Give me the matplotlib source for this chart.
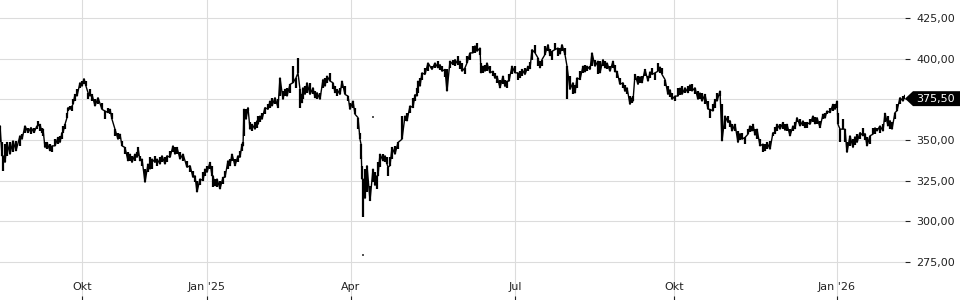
import matplotlib
matplotlib.use("Agg")
import matplotlib.pyplot as plt
from matplotlib.patches import Polygon
from matplotlib.ticker import FuncFormatter
import matplotlib.transforms as mtransforms

# bar index (trading-time axis) with low / high of each bar group
t = [0, 2, 3, 5, 7, 10, 13, 16, 20, 22, 25, 28, 31, 34, 37, 38, 40, 42, 43, 45,
     47, 50, 52, 55, 58, 60, 62, 63, 65, 67, 68, 70, 72, 73, 75, 77, 80, 82, 84, 86,
     88, 90, 92, 95, 98, 102, 105, 108, 110, 112, 115, 118, 120, 122, 125, 128, 130, 132, 135, 137,
     138, 140, 142, 145, 148, 150, 152, 155, 157, 160, 162, 165, 167, 170, 173, 175, 177, 180, 183, 187,
     190, 193, 195, 197, 200, 203, 205, 207, 210, 212, 213, 215, 217, 220, 223, 225, 228, 230, 232, 235,
     238, 240, 242, 243, 244, 246, 248, 250, 252, 255, 257, 258, 260, 262, 265, 268, 270, 272, 275, 278,
     280, 283, 285, 287, 290, 293, 296, 298, 300, 302, 303, 305, 307, 310, 313, 315, 317, 320, 323, 325,
     327, 330, 333, 335, 337, 340, 342, 345, 348, 350, 353, 355, 358, 360, 361, 362, 363, 365, 367, 370,
     373, 375, 377, 378, 380, 383, 385, 387, 388, 390, 392, 395, 398, 402, 405, 407, 410, 413, 415, 417,
     418, 420, 422, 425, 428, 432, 435, 438, 440, 442, 445, 447, 450, 453, 455, 458, 460, 462, 465, 467,
     470, 473, 475, 477, 480, 481, 483, 485, 487, 490, 493, 495, 497, 500, 503, 505, 507, 509, 512, 515,
     518, 520, 522, 525, 528, 530, 532, 535, 538, 540, 542, 545, 548, 550, 552, 555, 558, 560, 562, 565,
     567, 570, 573, 575, 577, 580, 583, 585, 587, 590, 592, 595, 598, 600, 603, 605, 607, 610, 613, 615,
     617, 620, 623, 625, 627, 630, 632, 633, 635, 638, 640, 642, 645, 648, 650, 652, 655, 658, 660, 662,
     665, 668, 670, 672, 675, 678, 680, 682, 685, 688, 690, 692, 695, 698, 700, 702, 705, 708, 710, 713,
     715, 717, 720, 722, 725, 728, 730, 732, 735, 738, 740, 742, 745, 748, 750, 752, 753, 755, 757, 760,
     763, 765, 767, 770, 773, 775, 777, 780, 783, 785, 787, 790, 793, 795, 797, 800, 803, 805, 807, 810,
     813, 815, 817, 820, 823, 825, 827, 830, 833, 835, 837, 838, 840, 843, 845, 847, 850, 853, 855, 857,
     860, 863, 865, 867, 870, 873, 875, 877, 880, 883, 885, 888, 890, 892, 895, 897, 900, 903, 905]

low = [348.5, 340.3, 331.1, 336.2, 340.3, 341.3, 342.4, 343.4, 346.4, 350.5, 354.6, 354.6, 353.6, 354.6, 356.7, 358.7, 355.6, 354.6, 352.6, 345.4,
       344.4, 343.4, 342.4, 346.4, 347.5, 348.5, 350.5, 354.6, 356.7, 363.8, 367.9, 368.9, 367.9, 372.0, 374.0, 377.1, 382.2, 383.2, 384.3, 383.2,
       375.1, 377.1, 374.0, 371.0, 372.0, 368.9, 362.8, 366.9, 365.9, 362.8, 352.6, 350.5, 350.5, 346.4, 341.3, 337.2, 337.2, 336.2, 337.2, 339.3,
       340.3, 337.2, 334.2, 324.0, 330.1, 332.1, 332.1, 336.2, 334.2, 335.2, 336.2, 335.2, 336.2, 339.3, 342.4, 341.3, 341.3, 338.3, 337.2, 333.2,
       330.1, 327.0, 324.0, 318.0, 322.0, 325.0, 328.0, 330.1, 332.1, 328.0, 320.9, 321.9, 320.9, 319.9, 322.9, 327.0, 332.1, 334.2, 337.2, 334.2,
       336.2, 339.3, 343.4, 346.4, 352.6, 362.8, 367.9, 356.7, 355.6, 356.7, 357.7, 359.7, 360.8, 362.8, 365.9, 368.9, 370.0, 371.0, 372.0, 370.0,
       377.1, 375.1, 377.1, 377.1, 379.2, 385.3, 382.2, 391.4, 370.0, 373.0, 375.1, 378.1, 379.2, 378.1, 378.1, 376.1, 375.1, 375.1, 382.2, 383.2,
       385.3, 386.3, 381.2, 379.2, 377.1, 378.1, 382.2, 378.1, 374.0, 368.9, 370.0, 365.9, 356.7, 350.5, 338.3, 326.0, 302.5, 314.0, 318.0, 312.7,
       324.0, 322.0, 319.9, 328.0, 333.2, 337.2, 336.2, 335.2, 328.0, 334.2, 338.3, 341.3, 344.4, 350.5, 361.8, 361.8, 366.9, 370.0, 374.0, 377.1,
       379.2, 383.2, 386.8, 390.4, 392.4, 393.5, 394.5, 394.5, 393.0, 392.4, 389.0, 380.2, 394.5, 396.5, 395.5, 396.5, 394.0, 392.4, 390.4, 397.5,
       399.6, 403.7, 403.7, 404.7, 402.7, 391.4, 391.4, 392.4, 392.4, 391.4, 389.4, 388.0, 385.3, 382.2, 384.3, 383.0, 382.2, 386.3, 390.4, 391.4,
       387.3, 388.5, 389.4, 390.4, 392.4, 394.0, 399.6, 403.7, 395.5, 394.5, 395.5, 402.7, 404.7, 402.0, 399.6, 405.7, 401.6, 403.0, 404.7, 402.7,
       375.1, 381.2, 378.1, 379.0, 382.2, 387.3, 391.4, 392.0, 392.4, 393.5, 395.5, 395.5, 390.4, 391.4, 395.5, 394.5, 393.5, 392.4, 394.5, 392.0,
       388.3, 384.3, 382.2, 380.0, 378.1, 372.0, 373.0, 374.0, 387.3, 384.3, 385.0, 385.3, 389.4, 386.3, 388.0, 390.4, 387.3, 392.4, 391.0, 390.4,
       383.2, 378.1, 376.5, 375.1, 374.0, 377.1, 377.5, 378.1, 379.2, 379.2, 380.0, 380.2, 378.1, 375.1, 375.0, 374.0, 372.0, 369.0, 363.8, 367.9,
       370.0, 374.0, 377.1, 349.5, 356.7, 360.8, 358.0, 355.6, 355.6, 348.5, 350.0, 350.5, 347.5, 353.6, 355.0, 355.6, 355.6, 353.0, 350.5, 346.4,
       342.4, 343.5, 344.4, 344.4, 352.6, 354.0, 355.6, 356.7, 356.7, 356.0, 355.6, 352.6, 355.6, 357.0, 360.8, 358.7, 358.7, 357.7, 357.7, 359.7,
       360.8, 360.0, 359.7, 357.7, 362.8, 363.5, 365.9, 366.9, 368.0, 368.9, 370.0, 359.7, 348.5, 356.7, 348.5, 342.4, 346.4, 345.4, 347.0, 348.5,
       350.5, 352.6, 350.0, 346.4, 347.5, 353.6, 354.0, 355.6, 354.6, 355.6, 361.0, 358.7, 357.0, 356.7, 362.8, 368.0, 372.0, 374.0, 375.0]

high = [358.7, 348.5, 340.3, 347.5, 348.5, 348.5, 349.5, 349.5, 352.6, 353.6, 358.7, 357.7, 357.7, 357.7, 358.7, 361.8, 359.7, 357.7, 356.7, 348.5,
        348.5, 347.5, 346.4, 350.5, 351.6, 352.6, 354.6, 358.7, 359.7, 366.9, 370.0, 371.0, 371.0, 375.1, 378.1, 381.2, 385.3, 386.3, 387.8, 386.3,
        379.2, 381.2, 378.1, 375.1, 376.1, 373.0, 367.9, 370.0, 369.0, 366.9, 356.7, 354.6, 353.6, 349.5, 345.4, 342.4, 341.3, 340.3, 341.3, 342.4,
        345.4, 340.3, 338.3, 332.1, 335.2, 339.3, 338.3, 340.3, 338.3, 339.3, 340.3, 339.3, 340.3, 343.4, 346.4, 345.4, 345.4, 342.4, 341.3, 337.2,
        334.2, 331.1, 328.0, 325.0, 326.0, 330.1, 332.1, 334.2, 336.2, 334.2, 328.0, 326.0, 326.0, 325.0, 327.0, 331.1, 337.2, 338.3, 341.3, 338.3,
        340.3, 343.4, 347.5, 348.5, 369.0, 368.9, 370.0, 360.8, 359.7, 360.8, 361.8, 364.8, 364.8, 366.9, 370.0, 372.0, 374.0, 376.1, 376.1, 375.1,
        388.3, 380.2, 381.2, 382.2, 384.3, 395.5, 388.3, 400.6, 381.2, 378.1, 382.2, 383.2, 385.3, 385.3, 382.2, 380.2, 379.2, 379.2, 387.3, 388.3,
        389.4, 391.4, 385.3, 383.2, 381.2, 382.2, 386.3, 383.2, 377.1, 373.0, 374.0, 370.0, 363.8, 354.6, 347.5, 334.2, 326.0, 332.1, 334.2, 321.9,
        332.1, 330.0, 328.0, 336.2, 341.3, 341.3, 340.3, 339.3, 333.2, 339.3, 345.4, 346.4, 348.5, 364.8, 364.8, 366.9, 371.0, 376.1, 378.0, 382.2,
        386.3, 388.3, 391.4, 394.5, 397.5, 395.5, 397.5, 398.6, 396.5, 395.5, 393.5, 393.5, 398.6, 399.6, 399.6, 401.6, 398.6, 397.5, 394.5, 401.6,
        403.7, 407.8, 408.0, 409.8, 406.7, 397.5, 395.5, 396.0, 397.5, 395.5, 392.4, 391.0, 389.4, 387.3, 389.4, 387.0, 386.3, 390.4, 395.5, 395.5,
        391.4, 392.4, 393.5, 394.5, 395.5, 398.0, 405.7, 408.8, 400.6, 399.0, 399.6, 407.8, 408.8, 406.0, 404.7, 409.8, 406.7, 407.0, 408.8, 406.7,
        395.5, 389.4, 385.3, 384.0, 388.3, 392.4, 395.5, 396.0, 395.5, 395.5, 403.7, 399.6, 398.6, 398.6, 399.6, 398.6, 397.5, 395.5, 398.6, 396.0,
        392.4, 388.3, 385.3, 384.0, 382.2, 377.1, 376.0, 377.1, 390.4, 389.4, 389.0, 389.4, 393.5, 389.4, 392.0, 394.5, 391.4, 397.5, 395.0, 394.5,
        387.3, 383.2, 381.0, 379.2, 377.1, 382.2, 382.0, 383.2, 382.2, 383.2, 384.0, 384.3, 382.2, 380.2, 379.0, 379.2, 378.1, 374.0, 368.9, 372.0,
        375.0, 379.2, 380.2, 372.0, 364.8, 364.8, 362.0, 359.7, 359.7, 355.6, 354.0, 354.6, 351.6, 356.7, 358.7, 358.7, 359.7, 357.0, 356.7, 350.5,
        347.5, 347.5, 348.5, 349.5, 354.6, 358.0, 359.7, 359.7, 360.8, 359.7, 359.7, 356.7, 358.7, 361.0, 363.8, 362.8, 361.8, 361.0, 360.8, 362.8,
        364.8, 364.0, 363.8, 361.8, 365.9, 366.5, 367.9, 370.0, 372.0, 372.0, 374.0, 366.9, 356.7, 362.8, 356.7, 348.5, 352.6, 350.5, 352.0, 353.6,
        354.6, 357.7, 354.0, 351.6, 352.6, 357.7, 357.5, 357.7, 358.7, 359.7, 366.5, 364.8, 362.0, 360.8, 366.9, 372.0, 376.1, 377.1, 377.5]

# isolated single ticks
spike_t = [363, 373]
spike_v = [279.1, 364.0]

last_price = 375.50
yticks = [275, 300, 325, 350, 375, 400, 425]
month_pos = [82, 207, 351, 515, 674, 837]
month_labels = ["Okt", "Jan '25", "Apr", "Jul", "Okt", "Jan '26"]


def price_fmt(v, pos):
    # the 375 label sits under the last-price tag
    if abs(v - last_price) < 3:
        return ""
    return f"{v:.2f}".replace(".", ",")


fig = plt.figure(figsize=(9.6, 3.0), dpi=100)
ax = fig.add_axes([0, 0, 905 / 960, 1])

# zigzag between high and low of consecutive bar groups
zig = [high[i] if i % 2 == 0 else low[i] for i in range(len(t))]
ax.vlines(t, low, high, color="black", lw=1.6, zorder=3)
ax.plot(t, zig, color="black", lw=1.0, zorder=3)
ax.scatter(spike_t, spike_v, s=1.5, marker="s", color="#555555", lw=0, zorder=3)

ax.set_xlim(0, 905)
ax.set_ylim(251.4, 436.3)

ax.set_yticks(yticks)
ax.yaxis.set_major_formatter(FuncFormatter(price_fmt))
ax.yaxis.tick_right()
ax.tick_params(axis="y", direction="out", length=3.5, width=0.8, pad=4.5,
               colors="#222222", labelsize=8)

ax.set_xticks(month_pos)
ax.set_xticklabels(month_labels)
ax.tick_params(axis="x", direction="in", length=3, width=0.8, pad=-13,
               colors="#222222", labelsize=8)

ax.grid(True, color="#dcdcdc", lw=0.8)
ax.set_axisbelow(True)
for s in ax.spines.values():
    s.set_visible(False)

# last price tag
trans = mtransforms.blended_transform_factory(ax.transAxes, ax.transData)
h = 4.6
tag = Polygon([(1.0, last_price), (1 + 8 / 905, last_price + h), (960 / 905, last_price + h),
               (960 / 905, last_price - h), (1 + 8 / 905, last_price - h)],
              closed=True, transform=trans, facecolor="black", edgecolor="none", clip_on=False)
ax.add_patch(tag)
ax.text(936 / 905, last_price, f"{last_price:.2f}".replace(".", ","), transform=trans,
        color="white", fontsize=8, ha="center", va="center", clip_on=False)

fig.savefig("out.png", dpi=100)
